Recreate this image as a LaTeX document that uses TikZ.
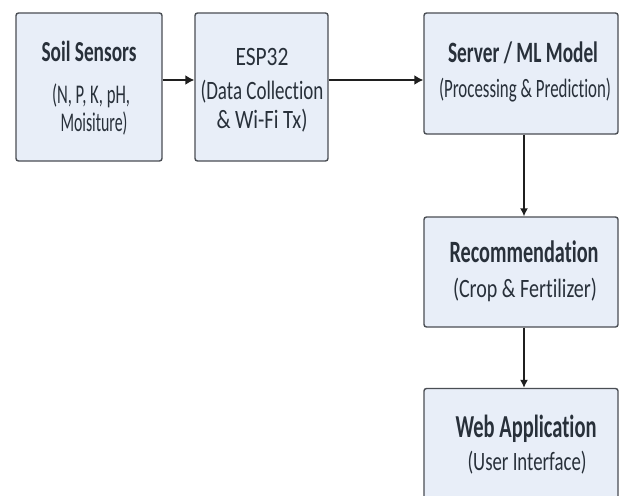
\documentclass[tikz,border=0pt]{standalone}
\usetikzlibrary{arrows.meta}
\usepackage{fontspec}
\setmainfont{Carlito}[Ligatures={NoCommon}]
\definecolor{boxfill}{HTML}{E8EEF8}
\definecolor{boxline}{HTML}{4A4E54}
\definecolor{txt}{HTML}{28303A}
\newcommand{\fitw}[3]{\resizebox{#1pt}{\height}{\fontsize{#2}{#2}\selectfont #3}}
\begin{document}
\begin{tikzpicture}[x=1pt,y=-1pt,
  box/.style={draw=boxline, line width=1.4pt, fill=boxfill, rounded corners=2.5pt, inner sep=0pt},
  ttl/.style={anchor=base, inner sep=0pt, text=txt, font=\bfseries},
  sub/.style={anchor=base, inner sep=0pt, text=txt},
  conn/.style={draw=black!88, line width=1.7pt, -{Latex[length=9pt,width=10pt]}},
  vconn/.style={draw=black!88, line width=1.4pt, -{Latex[length=8pt,width=8pt]}}]
\useasboundingbox (0,0) rectangle (620,495);
\fill[white] (0,0) rectangle (620,495);
% boxes
\node[box, minimum width=146pt, minimum height=148pt] (b1) at (89,87) {};
\node[box, minimum width=133pt, minimum height=148pt] (b2) at (261.5,87) {};
\node[box, minimum width=194pt, minimum height=121pt] (b3) at (521,73.5) {};
\node[box, minimum width=194pt, minimum height=110pt] (b4) at (521,272) {};
\node[box, minimum width=194pt, minimum height=115pt] (b5) at (521,446) {};
% texts
\node[ttl] (t1) at (89,62) {\fitw{95}{29}{Soil Sensors}};
\node[sub] (s1a) at (91,103) {\fitw{78}{27}{(N, P, K, pH,}};
\node[sub] (s1b) at (94,131) {\fitw{67}{27}{Moisiture)}};
\node[sub] (t2) at (262,66) {\fitw{53}{26.5}{ESP32}};
\node[sub] (s2a) at (262,99) {\fitw{123}{26.5}{(Data Collection}};
\node[sub] (s2b) at (262,128) {\fitw{91}{26.5}{\& Wi-Fi Tx)}};
\node[ttl] (t3) at (523,63) {\fitw{150}{29.5}{Server / ML Model}};
\node[sub] (s3) at (525,97) {\fitw{172}{26.5}{(Processing \& Prediction)}};
\node[ttl] (t4) at (524,262) {\fitw{149}{31}{Recommendation}};
\node[sub] (s4) at (525,297) {\fitw{144}{26.5}{(Crop \& Fertilizer)}};
\node[ttl] (t5) at (526,437) {\fitw{141}{32}{Web Application}};
\node[sub] (s5) at (527,470) {\fitw{119}{26.5}{(User Interface)}};
% connectors
\draw[conn] (b1.east |- 0,80) -- (b2.west |- 0,80);
\draw[conn] (b2.east |- 0,80) -- (b3.west |- 0,80);
\draw[vconn] (b3.south -| 524,0) -- (b4.north -| 524,0);
\draw[vconn] (b4.south -| 524,0) -- (b5.north -| 524,0);
\end{tikzpicture}
\end{document}
